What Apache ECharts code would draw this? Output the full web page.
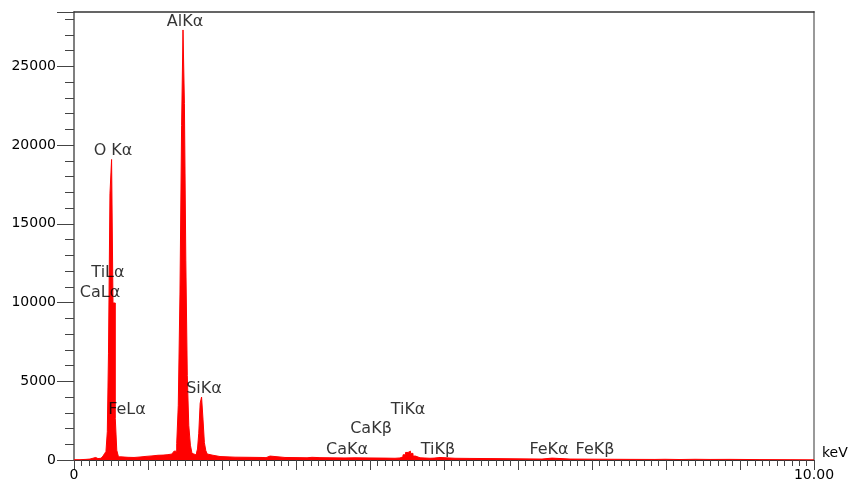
<!DOCTYPE html>
<html>
<head>
<meta charset="utf-8">
<style>html,body{margin:0;padding:0;background:#fff}#c{width:852px;height:482px}</style>
<script src="https://cdn.jsdelivr.net/npm/echarts@6/dist/echarts.min.js"></script>
</head>
<body>
<div id="c"></div>
<script>
// Spectrum: each energy (keV) starts a channel step with the given counts
const energyKeV = [0.000,0.081,0.162,0.216,0.243,0.293,0.324,0.365,0.392,0.412,0.432,0.450,0.466,0.486,0.508,0.527,0.558,0.578,0.601,0.635,0.730,0.811,0.892,0.973,1.054,1.135,1.203,1.270,1.324,1.351,1.388,1.409,1.432,1.454,1.473,1.492,1.511,1.531,1.551,1.573,1.595,1.622,1.655,1.669,1.686,1.705,1.724,1.743,1.762,1.781,1.800,1.824,1.878,1.973,2.176,2.378,2.541,2.595,2.649,2.851,3.054,3.149,3.216,3.324,3.459,3.662,3.797,4.000,4.203,4.338,4.405,4.446,4.480,4.514,4.547,4.581,4.615,4.676,4.811,4.865,4.946,5.149,5.351,5.622,5.892,6.162,6.324,6.459,6.703,7.108,7.514,7.851,7.986,8.189,8.392,8.595,8.865,9.270,9.676,10.000];
const counts    = [20,40,60,100,160,90,110,150,250,400,540,1800,6740,16900,19085,9970,2630,620,200,170,160,190,230,260,300,310,340,380,450,560,1045,3470,10540,21240,27310,22630,12650,5370,2200,940,420,320,450,700,1700,3600,4000,2600,1100,600,380,300,220,180,170,160,150,250,160,150,140,170,150,140,130,140,130,120,110,130,200,330,480,560,420,250,140,110,120,160,110,100,90,80,70,60,120,60,50,40,35,45,30,45,35,40,25,20,15,15];

// Peak labels: text and anchor (keV, counts)
const peakNames  = ['AlK\u03b1','O K\u03b1','TiL\u03b1','CaL\u03b1','FeL\u03b1','SiK\u03b1','TiK\u03b1','CaK\u03b2','CaK\u03b1','TiK\u03b2','FeK\u03b1','FeK\u03b2'];
const peakKeV    = [1.50,0.527,0.459,0.351,0.716,1.757,4.514,4.014,3.689,4.919,6.419,7.041];
const peakCounts = [27830,19660,11870,10600,3200,4530,3200,1995,665,665,665,665];

// Axis ticks
const yTicks = [0,5000,10000,15000,20000,25000];
const xMin = 0, xMax = 10, yMax = 28450;

const spectrum = energyKeV.map((e,i)=>[e,counts[i]]);
const labels = peakNames.map((n,i)=>({name:n, value:[peakKeV[i], peakCounts[i]]}));

const FONT = 'DejaVu Sans';
const chart = echarts.init(document.getElementById('c'), null, {renderer:'canvas'});
chart.setOption({
  animation:false,
  backgroundColor:'#fff',
  grid:{left:74, right:38, top:12, height:449.5, containLabel:false},
  xAxis:[{
    type:'value', min:xMin, max:xMax, interval:1,
    name:'keV', nameLocation:'end', nameGap:8,
    nameTextStyle:{color:'#000', fontSize:14, fontFamily:FONT, verticalAlign:'bottom'},
    axisLine:{show:true, onZero:false, lineStyle:{color:'#333', width:1}},
    axisTick:{show:true, inside:false, length:10, lineStyle:{color:'#444'}},
    minorTick:{show:true, splitNumber:10, length:6, lineStyle:{color:'#444'}},
    splitLine:{show:false},
    axisLabel:{color:'#000', fontSize:14, fontFamily:FONT, margin:8,
      formatter:v=> v===xMin ? '0' : (v===xMax ? xMax.toFixed(2) : '')}
  },{
    type:'value', min:xMin, max:xMax, position:'top',
    axisLine:{show:true, onZero:false, lineStyle:{color:'#333', width:1.5}},
    axisTick:{show:false}, axisLabel:{show:false}, splitLine:{show:false}
  }],
  yAxis:[{
    type:'value', min:0, max:yMax, interval:5000,
    axisLine:{show:true, onZero:false, lineStyle:{color:'#555', width:1.5}},
    axisTick:{show:true, length:17, lineStyle:{color:'#444'}},
    minorTick:{show:true, splitNumber:5, length:9, lineStyle:{color:'#444'}},
    splitLine:{show:false},
    axisLabel:{color:'#000', fontSize:14, fontFamily:FONT, margin:18,
      formatter:v=> yTicks.indexOf(v)>=0 ? String(v) : ''}
  },{
    type:'value', min:0, max:yMax, position:'right',
    axisLine:{show:true, onZero:false, lineStyle:{color:'#999', width:2}},
    axisTick:{show:false}, axisLabel:{show:false}, splitLine:{show:false}
  }],
  series:[{
    type:'line', step:'end', data:spectrum, symbol:'none',
    lineStyle:{color:'#ff0000', width:1},
    areaStyle:{color:'#ff0000', opacity:1},
    z:3
  },{
    type:'scatter', data:labels, symbolSize:1,
    itemStyle:{color:'rgba(0,0,0,0)'},
    label:{show:true, position:'inside', formatter:p=>p.name, color:'#000', fontSize:16, fontFamily:FONT},
    z:5
  }]
});
</script>
</body>
</html>
